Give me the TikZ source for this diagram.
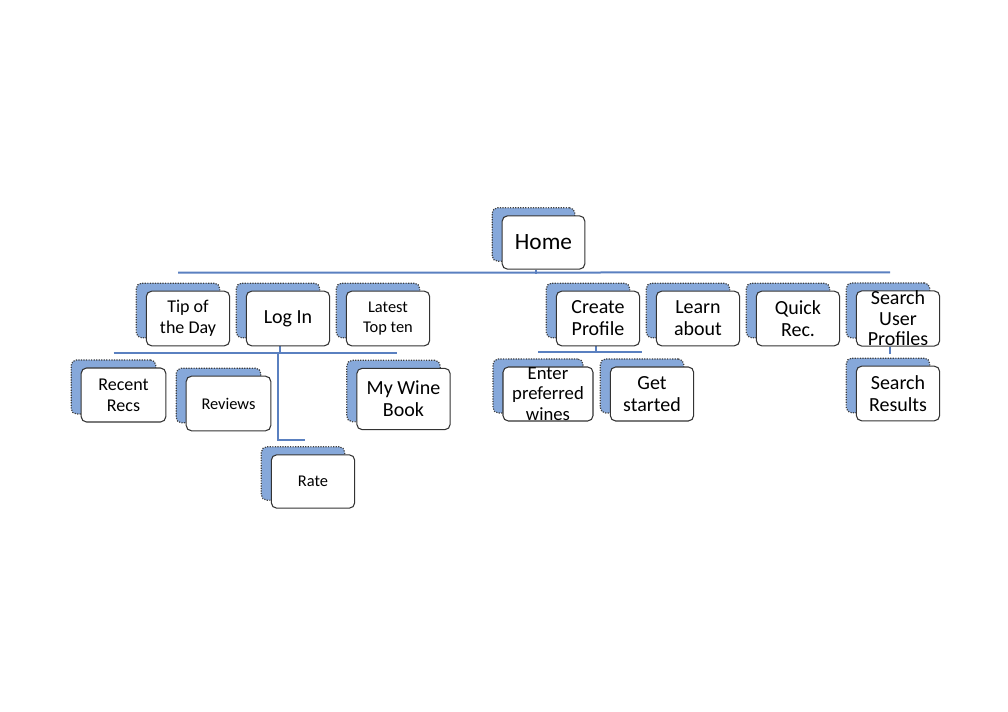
\documentclass[tikz,border=0pt]{standalone}
\usepackage{fontspec}
\setmainfont{Carlito}
\usetikzlibrary{shadows,calc,backgrounds}
\definecolor{conn}{HTML}{5A80C0}
\definecolor{backfill}{HTML}{86A8DA}
\tikzset{
  box/.style={draw=black!80, line width=0.8pt, fill=white, rounded corners=4pt,
    minimum width=62.5pt, minimum height=41pt, inner sep=0pt, align=center,
    copy shadow={shadow xshift=-7.5pt, shadow yshift=6pt, fill=backfill,
      draw=black!75, densely dotted, line width=0.9pt}},
  fbig/.style={font=\fontsize{17.5}{20}\selectfont},
  fmid/.style={font=\fontsize{15}{16.5}\selectfont},
  fsmall/.style={font=\fontsize{13.5}{16}\selectfont},
  ftiny/.style={font=\fontsize{12.3}{15}\selectfont},
  conn/.style={draw=conn, line width=1.5pt}
}
\begin{document}
\begin{tikzpicture}[x=0.75pt,y=-0.75pt]
\useasboundingbox (0,0) rectangle (1008,712);
% level 0
\node[box,fbig,minimum width=62pt,minimum height=40pt] (home) at (543.5,242.5) {Home};
% level 1
\node[box,fsmall] (tip) at (188,318.5) {Tip of\\the Day};
\node[box,fmid] (login) at (288,318.5) {Log In};
\node[box,ftiny] (latest) at (388,318.5) {Latest\\Top ten};
\node[box,fmid] (create) at (598,318.5) {Create\\Profile};
\node[box,fmid] (learn) at (698,318.5) {Learn\\about};
\node[box,fmid] (quick) at (798,318.5) {Quick\\Rec.};
\node[box,fmid,font=\fontsize{15}{15.4}\selectfont] (search) at (898,318.5) {Search\\User\\Profiles};
% level 2
\node[box,fsmall,minimum width=63.5pt,minimum height=40.5pt] (recent) at (123.5,395) {Recent\\Recs};
\node[box,ftiny,minimum width=63.5pt] (reviews) at (228.5,403.5) {Reviews};
\node[box,fmid,minimum width=70pt,minimum height=46pt] (mywine) at (403.5,399) {My Wine\\Book};
\node[box,ftiny,minimum height=40pt] (rate) at (313,481.5) {Rate};
\node[box,fsmall,font=\fontsize{14}{15.4}\selectfont,minimum width=67.5pt,minimum height=40.5pt] (enter) at (548,394) {Enter\\preferred\\wines};
\node[box,fmid,minimum height=40.5pt] (getstarted) at (652,394) {Get\\started};
\node[box,fmid] (results) at (898,393.5) {Search\\Results};
% connectors
\begin{scope}[on background layer]
\coordinate (homebar) at ($(home.south)+(-8,4)$);
\coordinate (barL) at ($(tip.north)+(-10,-18)$);
\coordinate (barR) at ($(search.north)+(-8,-18)$);
\draw[conn] ($(home.south)+(-8,0)$) -- (homebar);
\draw[conn] (barL) -- (barR);
\coordinate (lgbar) at ($(login.south)+(-8,7)$);
\coordinate (lgL) at ($(recent.north)+(-10,-15)$);
\coordinate (lgR) at ($(mywine.north)+(-7,-15)$);
\draw[conn] ($(login.south)+(-8,0)$) -- (lgbar);
\draw[conn] (lgL |- lgbar) -- (lgR |- lgbar);
\coordinate (rateend) at ($(rate.north)+(-8,-14)$);
\draw[conn] ($(login.south)+(-10,7)$) |- (rateend);
\coordinate (crbar) at ($(create.south)+(-2,6)$);
\coordinate (crL) at ($(enter.north)+(-10,-15)$);
\coordinate (crR) at ($(getstarted.north)+(-10,-15)$);
\draw[conn] ($(create.south)+(-2,0)$) -- (crbar);
\draw[conn] (crL |- crbar) -- (crR |- crbar);
\draw[conn] ($(search.south)+(-8,0)$) -- ($(results.north)+(-8,-12)$);
\end{scope}
\end{tikzpicture}
\end{document}
